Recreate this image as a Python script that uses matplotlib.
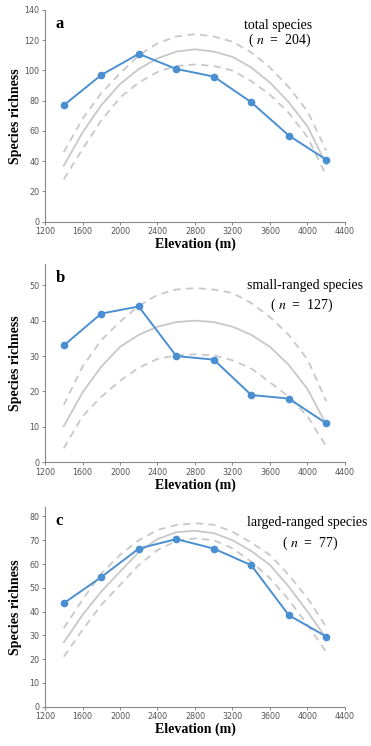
import matplotlib
matplotlib.use("Agg")
import matplotlib.pyplot as plt

# observed richness at sampled elevations
elev = [1400, 1800, 2200, 2600, 3000, 3400, 3800, 4200]
total_obs = [77, 97, 111, 101, 96, 79, 57, 41]
small_obs = [33, 42, 44, 30, 29, 19, 18, 11]
large_obs = [43.5, 54.5, 66.5, 70.5, 66.5, 59.5, 38.5, 29.5]

# mid-domain model predictions (mean and 95% limits), read every 200 m
mdm_elev = [1400, 1600, 1800, 2000, 2200, 2400, 2600, 2800,
            3000, 3200, 3400, 3600, 3800, 4000, 4200]
total_mean = [37, 59, 77, 91, 101, 108, 112.5, 114, 112.5, 109, 102, 92, 79, 63, 38]
total_hi = [46, 68, 85, 98, 110, 118, 122.5, 124, 122.5, 119, 112, 102, 89, 73, 47]
total_lo = [28, 48, 67, 82, 92, 99, 103, 104, 103, 100, 93, 84, 72, 56, 30.5]

small_mean = [10.2, 19.7, 27, 32.6, 36, 38.3, 39.6, 40, 39.6, 38.3, 36, 32.6, 27.5, 20.7, 10.7]
small_hi = [16.2, 27, 34.5, 39.7, 44.2, 47.3, 48.8, 49.2, 48.8, 47.8, 45, 41, 36, 29, 17.3]
small_lo = [4, 13, 18.5, 23, 26.7, 29.2, 30.2, 30.5, 30.2, 28.8, 26.5, 22.6, 18.5, 13, 4.5]

large_mean = [27, 38.6, 48.4, 56.8, 65, 70.5, 73.4, 74, 73, 70, 65.5, 59.6, 50.5, 40, 28.8]
large_hi = [33, 45, 56, 63.8, 70, 74.3, 76.4, 77.2, 76.5, 73.6, 69, 63.8, 55.4, 45.7, 33.5]
large_lo = [21, 32.3, 42.8, 51.2, 59.6, 65.9, 69.7, 70.8, 70, 66.6, 61, 54, 45, 34.4, 23]

x_ticks = [1200, 1600, 2000, 2400, 2800, 3200, 3600, 4000, 4400]

panels = [
    dict(letter="a", obs=total_obs, mean=total_mean, hi=total_hi, lo=total_lo,
         ylim=140, yticks=range(0, 141, 20), label="total species", n="204",
         rect=[0.1213, 0.7028, 0.8086, 0.2838], tx=(0.777, 0.783), ty=(0.929, 0.858)),
    dict(letter="b", obs=small_obs, mean=small_mean, hi=small_hi, lo=small_lo,
         ylim=56, yticks=range(0, 51, 10), label="small-ranged species", n="127",
         rect=[0.1213, 0.3803, 0.8086, 0.2658], tx=(0.867, 0.857), ty=(0.894, 0.793)),
    dict(letter="c", obs=large_obs, mean=large_mean, hi=large_hi, lo=large_lo,
         ylim=84, yticks=range(0, 81, 10), label="larged-ranged species", n="77",
         rect=[0.1213, 0.0527, 0.8086, 0.2677], tx=(0.873, 0.883), ty=(0.92, 0.82)),
]

plt.rcParams["mathtext.fontset"] = "stix"
serif = "Liberation Serif"
blue = "#4a8fd2"
grey = "#c8c8c8"

fig = plt.figure(figsize=(3.71, 7.46), dpi=100)

for p in panels:
    ax = fig.add_axes(p["rect"])
    ax.plot(mdm_elev, p["mean"], color=grey, lw=1.3, zorder=1)
    ax.plot(mdm_elev, p["hi"], color=grey, lw=1.3, ls=(0, (4, 3)), zorder=1)
    ax.plot(mdm_elev, p["lo"], color=grey, lw=1.3, ls=(0, (4, 3)), zorder=1)
    ax.plot(elev, p["obs"], color=blue, lw=1.4, marker="o", ms=4.5, zorder=3)

    ax.set_xlim(1200, 4400)
    ax.set_ylim(0, p["ylim"])
    ax.set_xticks(x_ticks)
    ax.set_yticks(list(p["yticks"]))
    ax.tick_params(labelsize=5.8, labelcolor="#555555", color="#888888",
                   length=2.5, width=0.7, pad=1.5)
    for s in ["top", "right"]:
        ax.spines[s].set_visible(False)
    for s in ["left", "bottom"]:
        ax.spines[s].set_color("#888888")
        ax.spines[s].set_linewidth(0.8)

    ax.set_xlabel("Elevation (m)", family=serif, fontweight="bold", fontsize=10, labelpad=1)
    ax.set_ylabel("Species richness", family=serif, fontweight="bold", fontsize=10)
    ax.yaxis.set_label_coords(-0.078, 0.5)

    ax.text(0.035, 0.97, p["letter"], transform=ax.transAxes, family=serif,
            fontweight="bold", fontsize=12, va="top", ha="left")
    ax.text(p["tx"][0], p["ty"][0], p["label"], transform=ax.transAxes, family=serif,
            fontsize=10, va="center", ha="center")
    ax.text(p["tx"][1], p["ty"][1], "( $n$  =  " + p["n"] + ")", transform=ax.transAxes,
            family=serif, fontsize=10, va="center", ha="center")

fig.savefig("out.png", dpi=100)
